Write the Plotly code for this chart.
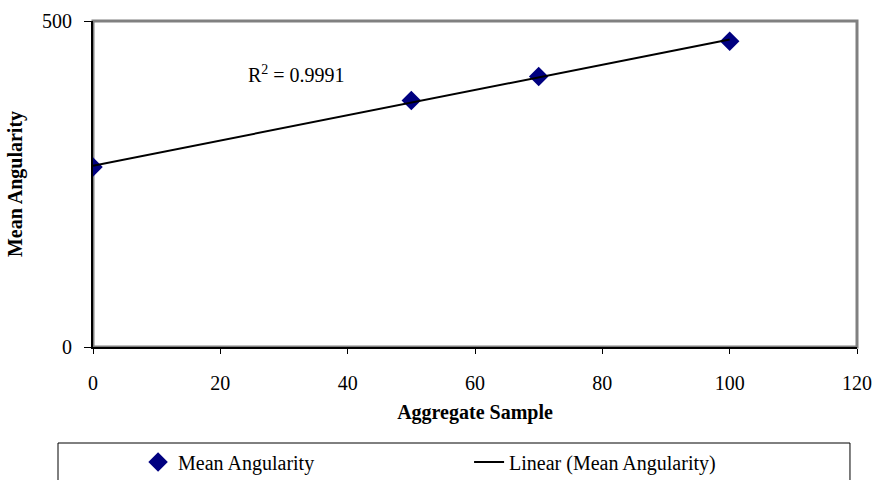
import numpy as np
import plotly.graph_objects as go

# Data
sample = [0, 50, 70, 100]
angularity = [276, 378, 415, 469]
x_ticks = [0, 20, 40, 60, 80, 100, 120]
y_ticks = [0, 500]
r2_label = "R<sup>2</sup> = 0.9991"

coef = np.polyfit(sample, angularity, 1)
trend_x = [min(sample), max(sample)]
trend_y = list(np.polyval(coef, trend_x))

FONT = "Liberation Serif, Times New Roman, serif"

fig = go.Figure()
fig.add_trace(go.Scatter(
    x=sample, y=angularity, mode="markers", name="Mean Angularity",
    marker=dict(symbol="diamond", size=15, color="#000080"),
))
fig.add_trace(go.Scatter(
    x=trend_x, y=trend_y, mode="lines", name="Linear (Mean Angularity)",
    line=dict(color="black", width=2),
))

fig.update_layout(
    width=877, height=480,
    margin=dict(l=93, r=20, t=21, b=133, autoexpand=False),
    paper_bgcolor="white", plot_bgcolor="white",
    font=dict(family=FONT, size=20, color="black"),
    showlegend=True,
    legend=dict(
        orientation="h", x=0.059, xanchor="left", y=-0.353, yanchor="middle",
        entrywidth=286, entrywidthmode="pixels",
        bgcolor="rgba(0,0,0,0)", borderwidth=0,
        font=dict(family=FONT, size=20),
    ),
    xaxis=dict(
        range=[0, 120], tickvals=x_ticks, ticks="outside", ticklen=5,
        tickcolor="black", showline=True, linecolor="black", linewidth=2,
        showgrid=False, zeroline=False, ticklabelstandoff=12, automargin=False,
        tickfont=dict(size=20),
        title=dict(text="<b>Aggregate Sample</b>", font=dict(size=20), standoff=12),
    ),
    yaxis=dict(
        range=[0, 500], tickvals=y_ticks, ticks="outside", ticklen=7,
        tickcolor="black", showline=True, linecolor="black", linewidth=2,
        showgrid=False, zeroline=False, ticklabelstandoff=8, automargin=False,
        tickfont=dict(size=20),
        title=dict(text="<b>Mean Angularity</b>", font=dict(size=20), standoff=14),
    ),
    shapes=[
        dict(type="rect", xref="paper", yref="paper", x0=0, x1=1, y0=0, y1=1,
             line=dict(color="#808080", width=3), layer="below"),
        dict(type="rect", xref="paper", yref="paper", x0=-0.0458, x1=0.9908,
             y0=-0.46, y1=-0.2945, line=dict(color="black", width=1), layer="below"),
    ],
    annotations=[
        dict(text=r2_label, x=32, y=419, xref="x", yref="y", showarrow=False,
             font=dict(family=FONT, size=20)),
    ],
)

fig.write_html("out.html")
